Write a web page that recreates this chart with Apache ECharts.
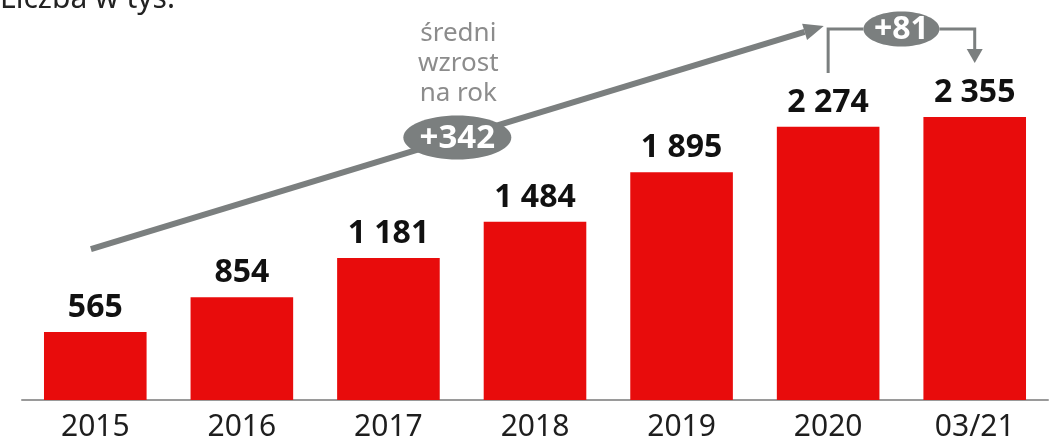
<!DOCTYPE html>
<html><head><meta charset="utf-8">
<script src="https://cdn.jsdelivr.net/npm/echarts@6/dist/echarts.min.js"></script>
<style>html,body{margin:0;padding:0;background:#fff;overflow:hidden}#c{width:1051px;height:446px}</style>
</head><body><div id="c"></div>
<script>
// ---- data ----
const categories = ['2015', '2016', '2017', '2018', '2019', '2020', '03/21'];
const values = [565, 854, 1181, 1484, 1895, 2274, 2355];
const unitLabel = 'Liczba w tys.';
const avgGrowthLines = ['średni', 'wzrost', 'na rok'];
const avgGrowth = 342;
const lastChange = 81;

// ---- chart ----
const fmt = v => String(v).replace(/\B(?=(\d{3})+(?!\d))/g, ' ');
const FONT = '"Noto Sans", sans-serif';
const RED = '#e80c0c', GRAY = '#7b7f7f';
const chart = echarts.init(document.getElementById('c'), null, { renderer: 'canvas' });
chart.setOption({
  animation: false,
  grid: { left: 22, right: 3, top: 0, bottom: 46 },
  xAxis: {
    type: 'category', data: categories,
    axisLine: { lineStyle: { color: '#9a9a9a', width: 2 } },
    axisTick: { show: false },
    axisLabel: { color: '#1e1e1e', fontSize: 30, fontFamily: FONT, margin: 12 }
  },
  yAxis: { type: 'value', min: 0, max: 3328, show: false, splitLine: { show: false } },
  series: [{
    type: 'bar', data: values, barCategoryGap: '30%',
    itemStyle: { color: RED },
    label: {
      show: true, position: 'top', distance: 8,
      formatter: p => fmt(p.value),
      fontFamily: FONT, fontWeight: 'bold', fontSize: 32, color: '#111', lineHeight: 32
    }
  }]
});

// ---- annotations (anchored in data space, converted through the chart's scales) ----
const px = (i, v) => {
  const i0 = Math.max(0, Math.min(categories.length - 2, Math.floor(i)));
  const a = chart.convertToPixel({ gridIndex: 0 }, [i0, v]);
  const b = chart.convertToPixel({ gridIndex: 0 }, [i0 + 1, v]);
  return [a[0] + (b[0] - a[0]) * (i - i0), a[1]];
};
const nLast = categories.length - 1;
const tFrom = px(-0.03, 1256), tTo = px(nLast - 1.03, 3112);
const dx = tTo[0] - tFrom[0], dy = tTo[1] - tFrom[1], L = Math.hypot(dx, dy);
const ux = dx / L, uy = dy / L, ah = 20, aw = 8.5;
const base = [tTo[0] - ux * ah, tTo[1] - uy * ah];
const mid = [(tFrom[0] + tTo[0]) / 2, (tFrom[1] + tTo[1]) / 2];

const cA = px(nLast - 1, 2720), cTop = px(nLast - 1, 3087), cMid = px(nLast - 0.5, 3087);
const cB = px(nLast, 3087), cTip = px(nLast, 2804);

const g = [];
g.push({ type: 'text', style: { text: unitLabel, x: 0, y: -1, verticalAlign: 'middle', fill: '#222', font: '30px ' + FONT } });
g.push({ type: 'polyline', shape: { points: [tFrom, base] }, style: { stroke: GRAY, lineWidth: 6, fill: null } });
g.push({ type: 'polygon', shape: { points: [tTo, [base[0] - uy * aw, base[1] + ux * aw], [base[0] + uy * aw, base[1] - ux * aw]] }, style: { fill: GRAY } });
g.push({ type: 'ellipse', shape: { cx: mid[0], cy: mid[1], rx: 54, ry: 22 }, style: { fill: GRAY } });
g.push({ type: 'text', style: { text: '+' + avgGrowth, x: mid[0], y: mid[1] + 1, align: 'center', verticalAlign: 'middle', fill: '#fff', font: 'bold 33px ' + FONT } });
avgGrowthLines.forEach((t, k) => {
  g.push({ type: 'text', style: { text: t, x: mid[0] + 1, y: mid[1] - 104 + k * 30, align: 'center', verticalAlign: 'middle', fill: '#8c8c8c', font: '26px ' + FONT } });
});
g.push({ type: 'polyline', shape: { points: [cA, cTop, [cMid[0] - 38, cTop[1]]] }, style: { stroke: GRAY, lineWidth: 3, fill: null } });
g.push({ type: 'polyline', shape: { points: [[cMid[0] + 38, cB[1]], cB, [cB[0], cTip[1] - 12]] }, style: { stroke: GRAY, lineWidth: 3, fill: null } });
g.push({ type: 'polygon', shape: { points: [cTip, [cTip[0] - 8, cTip[1] - 14], [cTip[0] + 8, cTip[1] - 14]] }, style: { fill: GRAY } });
g.push({ type: 'ellipse', shape: { cx: cMid[0], cy: cMid[1], rx: 38, ry: 17.5 }, style: { fill: GRAY } });
g.push({ type: 'text', style: { text: '+' + lastChange, x: cMid[0], y: cMid[1] + 1, align: 'center', verticalAlign: 'middle', fill: '#fff', font: 'bold 32px ' + FONT } });
chart.setOption({ graphic: g });
</script>
</body></html>
